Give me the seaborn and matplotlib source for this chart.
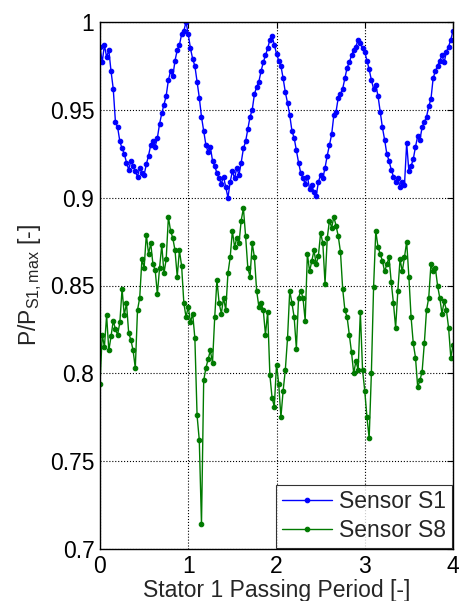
import numpy as np
import pandas as pd
import seaborn as sns
import matplotlib
matplotlib.use('Agg')
import matplotlib.pyplot as plt
from matplotlib.ticker import FormatStrFormatter

# sensor S1, sampled every 0.025 stator passing periods
s1 = [0.986, 0.977, 0.987, 0.980, 0.984, 0.972, 0.962, 0.943, 0.940, 0.932,
      0.928, 0.925, 0.920, 0.916, 0.921, 0.918, 0.915, 0.912, 0.917, 0.914,
      0.913, 0.919, 0.924, 0.930, 0.932, 0.929, 0.934, 0.942, 0.948, 0.953,
      0.958, 0.967, 0.972, 0.969, 0.978, 0.984, 0.987, 0.993, 0.995, 1.000,
      0.993, 0.985, 0.979, 0.975, 0.966, 0.957, 0.946, 0.938, 0.930, 0.926,
      0.929, 0.921, 0.918, 0.914, 0.911, 0.908, 0.912, 0.906, 0.900, 0.909,
      0.915, 0.911, 0.917, 0.913, 0.920, 0.928, 0.932, 0.939, 0.946, 0.950,
      0.959, 0.963, 0.966, 0.972, 0.977, 0.981, 0.985, 0.990, 0.992, 0.987,
      0.982, 0.978, 0.975, 0.968, 0.960, 0.954, 0.947, 0.938, 0.934, 0.927,
      0.920, 0.914, 0.911, 0.908, 0.912, 0.905, 0.907, 0.903, 0.901, 0.909,
      0.913, 0.911, 0.917, 0.924, 0.930, 0.936, 0.947, 0.949, 0.957, 0.959,
      0.962, 0.968, 0.974, 0.977, 0.981, 0.984, 0.986, 0.990, 0.988, 0.985,
      0.983, 0.978, 0.973, 0.967, 0.962, 0.964, 0.958, 0.949, 0.940, 0.933,
      0.925, 0.921, 0.916, 0.912, 0.909, 0.911, 0.906, 0.909, 0.907, 0.931,
      0.915, 0.918, 0.922, 0.929, 0.935, 0.933, 0.940, 0.943, 0.946, 0.952,
      0.956, 0.968, 0.972, 0.975, 0.978, 0.981, 0.977, 0.983, 0.986, 0.990,
      0.995]

# sensor S8, same sampling
s8 = [0.794, 0.822, 0.815, 0.833, 0.813, 0.821, 0.830, 0.825, 0.822, 0.829,
      0.848, 0.833, 0.840, 0.823, 0.819, 0.813, 0.803, 0.836, 0.843, 0.865,
      0.860, 0.879, 0.868, 0.874, 0.862, 0.859, 0.845, 0.860, 0.873, 0.857,
      0.865, 0.889, 0.881, 0.877, 0.870, 0.855, 0.870, 0.861, 0.840, 0.832,
      0.838, 0.829, 0.834, 0.820, 0.776, 0.762, 0.714, 0.796, 0.803, 0.808,
      0.813, 0.806, 0.832, 0.853, 0.840, 0.834, 0.843, 0.836, 0.857, 0.866,
      0.881, 0.872, 0.877, 0.874, 0.887, 0.894, 0.878, 0.860, 0.855, 0.874,
      0.866, 0.847, 0.838, 0.840, 0.836, 0.822, 0.835, 0.799, 0.786, 0.781,
      0.805, 0.794, 0.775, 0.790, 0.802, 0.820, 0.847, 0.840, 0.832, 0.814,
      0.843, 0.847, 0.843, 0.830, 0.868, 0.858, 0.864, 0.870, 0.862, 0.867,
      0.880, 0.874, 0.851, 0.877, 0.887, 0.883, 0.889, 0.884, 0.878, 0.869,
      0.848, 0.836, 0.832, 0.822, 0.812, 0.800, 0.807, 0.802, 0.835, 0.802,
      0.790, 0.775, 0.763, 0.800, 0.849, 0.881, 0.872, 0.868, 0.864, 0.858,
      0.862, 0.866, 0.852, 0.840, 0.826, 0.847, 0.865, 0.858, 0.866, 0.875,
      0.855, 0.832, 0.817, 0.809, 0.792, 0.796, 0.801, 0.817, 0.836, 0.843,
      0.862, 0.858, 0.860, 0.850, 0.843, 0.834, 0.841, 0.836, 0.826, 0.809,
      0.816]

x1 = np.linspace(0, 4, len(s1))
x8 = np.linspace(0, 4, len(s8))

sns.set_style('white')
plt.rcParams['font.family'] = ['Liberation Sans', 'DejaVu Sans']
plt.rcParams['mathtext.fontset'] = 'custom'
plt.rcParams['mathtext.rm'] = 'Liberation Sans'
plt.rcParams['mathtext.it'] = 'Liberation Sans'

fig = plt.figure(figsize=(4.59, 6.01), dpi=100)
ax = fig.add_axes([100 / 459, 52 / 601, 353 / 459, 527 / 601])

blue = '#0000ff'
green = '#007a00'
sns.lineplot(x=x1, y=s1, ax=ax, color=blue, marker='.', markersize=6.5,
             markeredgewidth=0.8, markeredgecolor=blue, linewidth=1.0,
             label='Sensor S1', sort=False)
sns.lineplot(x=x8, y=s8, ax=ax, color=green, marker='.', markersize=6.5,
             markeredgewidth=0.8, markeredgecolor=green, linewidth=1.0,
             label='Sensor S8', sort=False)

ax.set_xlim(0, 4)
ax.set_ylim(0.7, 1.0)
ax.set_xticks([0, 1, 2, 3, 4])
ax.set_yticks([0.7, 0.75, 0.8, 0.85, 0.9, 0.95, 1.0])
ax.yaxis.set_major_formatter(FormatStrFormatter('%g'))
ax.grid(True, linestyle=':', color='black', linewidth=0.8)
ax.tick_params(direction='in', top=True, right=True, labelsize=16.5,
               length=4, width=0.8, colors='black', pad=4)
for sp in ax.spines.values():
    sp.set_color('black')
    sp.set_linewidth(1.0)

ax.set_xlabel('Stator 1 Passing Period [-]', fontsize=16.5, labelpad=1)
ax.set_ylabel(r'P/P$_{\mathrm{S1,max}}$ [-]', fontsize=16.5, labelpad=4)

leg = ax.legend(loc='lower right', fontsize=16.5, frameon=True, fancybox=False,
                borderpad=0.25, handlelength=2.2, borderaxespad=0.05,
                labelspacing=0.25, handletextpad=0.3)
leg.get_frame().set_edgecolor('black')
leg.get_frame().set_linewidth(0.8)

fig.savefig('out.png', dpi=100)
